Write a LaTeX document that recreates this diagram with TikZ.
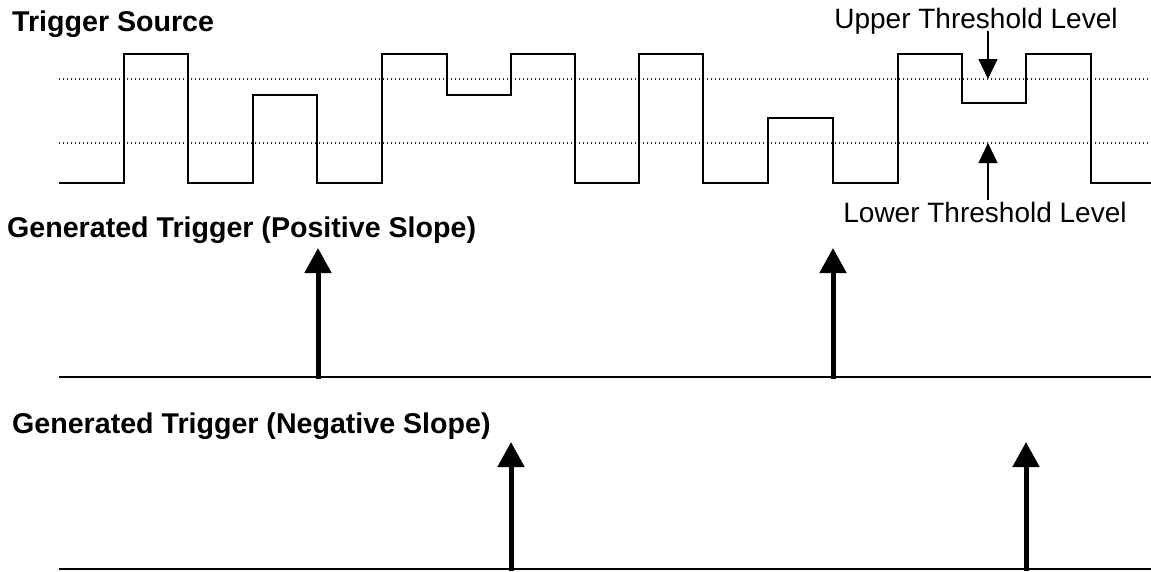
\documentclass[tikz,border=0pt]{standalone}
\usepackage{fontspec}
\setmainfont{Liberation Sans}
\usetikzlibrary{arrows.meta}
\tikzset{
  title/.style={anchor=base west, inner sep=0pt, font=\fontsize{28.6}{34}\selectfont\bfseries},
  lbl/.style={anchor=base, inner sep=0pt, font=\fontsize{28}{34}\selectfont},
  wave/.style={line width=1.3pt, line join=miter},
  thresh/.style={line width=1.2pt, black!85, dash pattern=on 1.4pt off 2.6pt},
  axisline/.style={line width=1.3pt},
  trig/.style={line width=5pt, -{Triangle[width=26pt,length=25pt]}},
  pointer/.style={line width=1.2pt, -{Triangle[width=19pt,length=20pt]}}
}
\begin{document}
\begin{tikzpicture}[x=1pt,y=-1pt]
\useasboundingbox (0,0) rectangle (1151,571);
% titles
\node[title] (tsrc) at (12,31) {Trigger Source};
\node[title] (tpos) at (7,237) {Generated Trigger (Positive Slope)};
\node[title] (tneg) at (12,433) {Generated Trigger (Negative Slope)};
\node[lbl] (up) at (976,28) {Upper Threshold Level};
\node[lbl] (lo) at (985,222) {Lower Threshold Level};
% threshold lines
\coordinate (u0) at (59,79);  \coordinate (u1) at (1151,79);
\coordinate (l0) at (59,143); \coordinate (l1) at (1151,143);
\draw[thresh] (u0) -- (u1);
\draw[thresh] (l0) -- (l1);
% waveform
\draw[wave] (59,183) -- (124,183) -- (124,54) -- (188,54) -- (188,183) -- (253,183)
  -- (253,95) -- (317,95) -- (317,183) -- (382,183) -- (382,54) -- (447,54)
  -- (447,95) -- (511,95) -- (511,54) -- (575,54) -- (575,183) -- (639,183)
  -- (639,54) -- (703,54) -- (703,183) -- (768,183) -- (768,118) -- (833,118)
  -- (833,183) -- (898,183) -- (898,54) -- (962,54) -- (962,103) -- (1026,103)
  -- (1026,54) -- (1091,54) -- (1091,183) -- (1151,183);
% threshold pointers
\coordinate (ps) at (988,31);  \coordinate (pt) at (988,79);
\coordinate (qs) at (988,200); \coordinate (qt) at (988,143);
\draw[pointer] (ps) -- (pt);
\draw[pointer] (qs) -- (qt);
% positive slope row
\coordinate (pb0) at (59,377); \coordinate (pb1) at (1151,377);
\draw[axisline] (pb0) -- (pb1);
\coordinate (pa1) at (318,379); \coordinate (pa1t) at (318,248);
\coordinate (pa2) at (833,379); \coordinate (pa2t) at (833,248);
\draw[trig] (pa1) -- (pa1t);
\draw[trig] (pa2) -- (pa2t);
% negative slope row
\coordinate (nb0) at (59,569); \coordinate (nb1) at (1151,569);
\draw[axisline] (nb0) -- (nb1);
\coordinate (na1) at (511,571); \coordinate (na1t) at (511,442);
\coordinate (na2) at (1026,571); \coordinate (na2t) at (1026,442);
\draw[trig] (na1) -- (na1t);
\draw[trig] (na2) -- (na2t);
\end{tikzpicture}
\end{document}
